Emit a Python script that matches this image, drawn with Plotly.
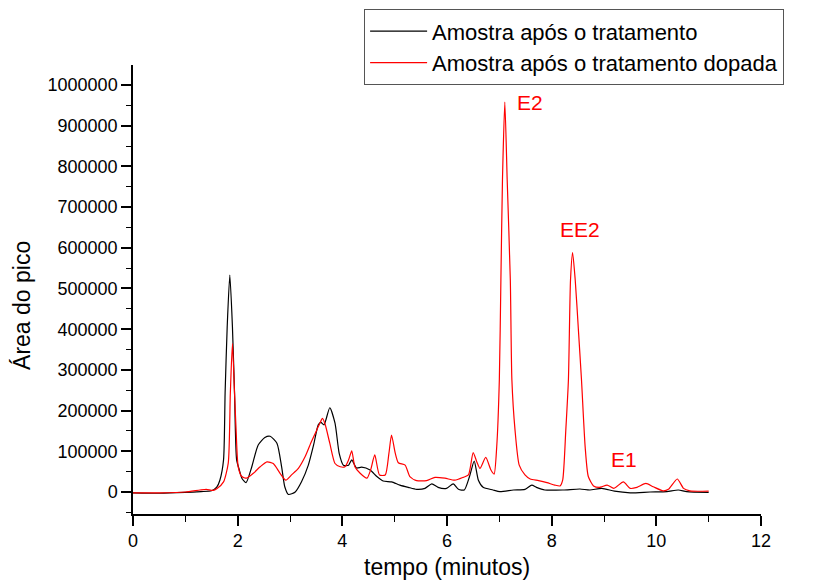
import plotly.graph_objects as go

# Black: Amostra após o tratamento
t_black = [0, 0.5, 1.0, 1.3, 1.5, 1.6, 1.66, 1.73, 1.76, 1.80, 1.85, 1.90, 1.94, 1.98, 2.03, 2.08,
           2.16, 2.27, 2.39, 2.52, 2.62, 2.75, 2.84, 2.90, 2.97, 3.10, 3.22, 3.35, 3.45, 3.54,
           3.59, 3.65, 3.76, 3.86, 3.94, 4.02, 4.12, 4.18, 4.27, 4.37, 4.53, 4.66, 4.78, 4.94,
           5.10, 5.26, 5.42, 5.58, 5.71, 5.83, 5.99, 6.12, 6.22, 6.33, 6.43, 6.52, 6.60, 6.69,
           6.88, 7.01, 7.27, 7.49, 7.62, 7.71, 7.87, 8.22, 8.54, 8.73, 8.96, 9.2, 9.5, 9.88,
           10.2, 10.42, 10.58, 11.0]
y_black = [-2000, -3000, -1000, 1000, 3000, 12000, 29000, 79000, 243000, 406000, 533000, 406000,
           243000, 79000, 55000, 34000, 23000, 62000, 115000, 134000, 137000, 120000, 62000,
           13000, -6000, 0, 25000, 66000, 115000, 165000, 171000, 165000, 207000, 169000, 95000,
           66000, 66000, 79000, 59000, 61000, 54000, 38000, 27000, 25000, 17000, 11500, 6600,
           9000, 20000, 11500, 9000, 20000, 6600, 5000, 38000, 76000, 29000, 11500, 5000, 1000,
           5000, 6600, 17000, 11500, 5000, 5000, 7400, 5000, 9000, 2000, -2000, 0, 1000, 5000,
           1000, -1000]

# Red: Amostra após o tratamento dopada
t_red = [0, 0.5, 1.0, 1.28, 1.4, 1.53, 1.6, 1.73, 1.82, 1.86, 1.90, 1.94, 1.97, 2.01, 2.08, 2.17,
         2.30, 2.43, 2.56, 2.68, 2.81, 2.92, 3.03, 3.16, 3.29, 3.41, 3.51, 3.57, 3.62, 3.67,
         3.76, 3.86, 3.96, 4.05, 4.12, 4.18, 4.24, 4.34, 4.47, 4.54, 4.62, 4.71, 4.82, 4.89,
         4.94, 5.01, 5.07, 5.20, 5.29, 5.42, 5.61, 5.77, 5.96, 6.15, 6.31, 6.41, 6.50, 6.57,
         6.63, 6.74, 6.84, 6.90, 6.95, 7.00, 7.03, 7.06, 7.105, 7.15, 7.21, 7.24, 7.30, 7.38,
         7.49, 7.59, 7.75, 7.91, 8.06, 8.16, 8.21, 8.27, 8.32, 8.36, 8.40, 8.45, 8.51, 8.57,
         8.64, 8.70, 8.80, 8.91, 8.96, 9.06, 9.19, 9.37, 9.50, 9.63, 9.80, 9.94, 10.13, 10.23,
         10.40, 10.52, 10.64, 11.0]
y_red = [-2000, -2000, 0, 5000, 6600, 4000, 8000, 25000, 71000, 243000, 365000, 243000, 152000,
         62000, 38000, 34000, 46000, 62000, 74000, 70000, 46000, 29000, 42000, 58000, 87000,
         124000, 152000, 169000, 181000, 167000, 120000, 70000, 62000, 62000, 79000, 101000,
         62000, 46000, 34000, 54000, 91000, 42000, 42000, 95000, 140000, 96000, 72000, 66000,
         38000, 28000, 28000, 36000, 34000, 29000, 36000, 42000, 97000, 74000, 58000, 85000,
         54000, 44000, 111000, 275000, 521000, 767000, 958000, 767000, 521000, 275000, 152000,
         66000, 42000, 32000, 28000, 23000, 17000, 15000, 29000, 152000, 275000, 521000, 588000,
         521000, 400000, 275000, 111000, 38000, 15000, 11500, 13000, 17000, 9000, 25000, 9000,
         11500, 21000, 13000, 3000, 6600, 32000, 9000, 3000, 2000]

labels = ["E2", "EE2", "E1"]
label_x = [7.59, 8.54, 9.38]
label_y = [956000, 644000, 81000]

x_tickvals = [0, 2, 4, 6, 8, 10, 12]
y_tickvals = [0, 100000, 200000, 300000, 400000, 500000, 600000, 700000, 800000, 900000, 1000000]

FONT = "Liberation Sans, Arial, sans-serif"

fig = go.Figure()
fig.add_trace(go.Scatter(x=t_black, y=y_black, mode="lines", name="Amostra após o tratamento",
                         line=dict(color="#000000", width=1.2, shape="spline", smoothing=0.6)))
fig.add_trace(go.Scatter(x=t_red, y=y_red, mode="lines", name="Amostra após o tratamento dopada",
                         line=dict(color="#ff0000", width=1.2, shape="spline", smoothing=0.6)))

for txt, ax, ay in zip(labels, label_x, label_y):
    fig.add_annotation(x=ax, y=ay, text=txt, showarrow=False,
                       font=dict(family=FONT, size=21, color="#ff0000"))

# axis titles as paper annotations
fig.add_annotation(xref="paper", yref="paper", x=0.5, y=-0.118, text="tempo (minutos)",
                   showarrow=False, xanchor="center", yanchor="middle",
                   font=dict(family=FONT, size=23, color="#000000"))
fig.add_annotation(xref="paper", yref="paper", x=-0.1768, y=0.4655, text="Área do pico",
                   showarrow=False, xanchor="center", yanchor="middle", textangle=-90,
                   font=dict(family=FONT, size=23, color="#000000"))

fig.update_layout(
    width=813, height=582,
    margin=dict(l=133, r=52, t=65, b=68, autoexpand=False),
    paper_bgcolor="white", plot_bgcolor="white",
    font=dict(family=FONT, color="#000000"),
    showlegend=True,
    legend=dict(x=0.368, y=1.124, xanchor="left", yanchor="top",
                bordercolor="#555555", borderwidth=1, bgcolor="white",
                font=dict(family=FONT, size=22), itemwidth=57),
    xaxis=dict(range=[0, 12], tickvals=x_tickvals, ticktext=[str(v) for v in x_tickvals],
               showgrid=False, zeroline=False, showline=True, linecolor="black", linewidth=1.5,
               ticks="outside", ticklen=10, tickwidth=1.5, tickcolor="black", automargin=False,
               minor=dict(dtick=1, tick0=0, ticks="outside", ticklen=6, tickwidth=1.2, tickcolor="black"),
               tickfont=dict(family=FONT, size=18)),
    yaxis=dict(range=[-54000, 1049000], tickvals=y_tickvals, ticktext=[str(v) for v in y_tickvals],
               showgrid=False, zeroline=False, showline=True, linecolor="black", linewidth=1.5,
               ticks="outside", ticklen=10, tickwidth=1.5, tickcolor="black", automargin=False,
               minor=dict(dtick=50000, tick0=0, ticks="outside", ticklen=5, tickwidth=1.2, tickcolor="black"),
               tickfont=dict(family=FONT, size=18)),
)

fig.write_html("out.html")
